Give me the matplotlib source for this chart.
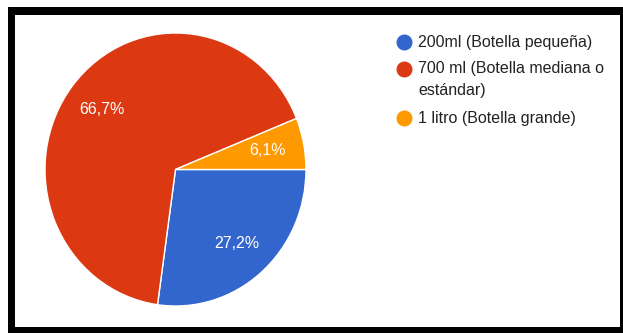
import matplotlib.pyplot as plt
from matplotlib.patches import Rectangle

plt.rcParams['font.family'] = ['Liberation Sans', 'DejaVu Sans']

labels = ["200ml (Botella pequeña)",
          "700 ml (Botella mediana o\nestándar)",
          "1 litro (Botella grande)"]
values = [27.2, 66.7, 6.1]
colors = ['#3366cc', '#dc3912', '#ff9900']

W, H = 623, 333

fig = plt.figure(figsize=(W / 100, H / 100), dpi=100)
ax = fig.add_axes([0, 0, 1, 1])

# black frame around the chart area (pixel coordinates, y measured from top)
def box(x0, y0, x1, y1, color):
    ax.add_patch(Rectangle((x0, H - y1), x1 - x0, y1 - y0, color=color, lw=0, zorder=0))

box(8, 7, W, H, 'black')
box(15, 15, 620, 327, 'white')

# legend on the right
ys = [42, 69, 118]
for lab, col, y in zip(labels, colors, ys):
    ax.plot(404, H - y, 'o', color=col, markersize=10.5, zorder=3)
    for k, line in enumerate(lab.split('\n')):
        ax.text(418, H - y - 21 * k, line, fontsize=11.5, color='#222222',
                va='center', ha='left')

ax.set_xlim(0, W)
ax.set_ylim(0, H)
ax.axis('off')

# pie in its own axes (box from x 45..306, y 33..306 px), clockwise from 3 o'clock
pl, pr, pt, pb = 45, 306, 33, 306
pax = fig.add_axes([pl / W, (H - pb) / H, (pr - pl) / W, (pb - pt) / H])
pax.pie(values, colors=colors, startangle=0, counterclock=False, radius=1,
        autopct=lambda p: f"{p:.1f}%".replace('.', ','), pctdistance=0.72,
        wedgeprops=dict(edgecolor='white', linewidth=1),
        textprops=dict(color='white', fontsize=11.5))
pax.set_xlim(-1, 1)
pax.set_ylim(-1, 1)
pax.set_aspect('auto')
pax.axis('off')

fig.savefig('out.png', dpi=100)
